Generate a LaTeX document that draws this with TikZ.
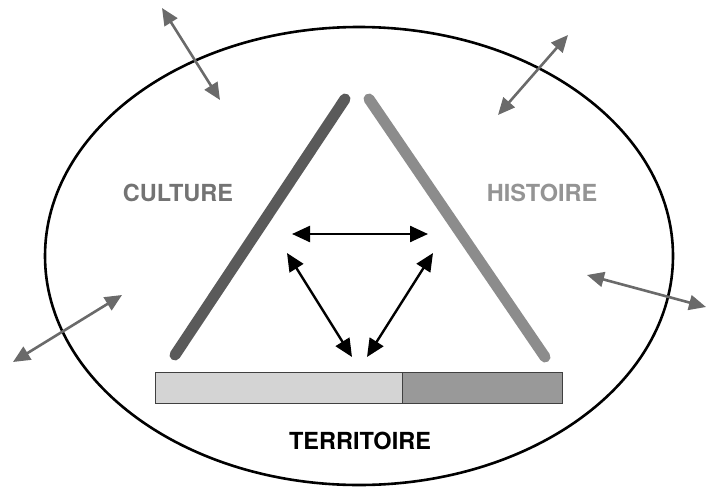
\documentclass[tikz,border=0pt]{standalone}
\usepackage{fontspec}
\setmainfont{TeX Gyre Heros}
\usetikzlibrary{arrows.meta}
\definecolor{bardark}{HTML}{5A5A5A}
\definecolor{barlight}{HTML}{8C8C8C}
\definecolor{arrgray}{HTML}{6A6A6A}
\definecolor{fillA}{HTML}{D4D4D4}
\definecolor{fillB}{HTML}{999999}
\tikzset{
  outarrow/.style={draw=arrgray, line width=2.6pt, {Triangle[length=17pt,width=15pt]}-{Triangle[length=17pt,width=15pt]}},
  inarrow/.style={draw=black, line width=2.4pt, {Triangle[length=18pt,width=16pt]}-{Triangle[length=18pt,width=16pt]}},
  side/.style={line width=11pt, line cap=round},
  lbl/.style={font=\fontsize{23.5}{26}\selectfont\bfseries, inner sep=0pt, anchor=center}
}
\begin{document}
\begin{tikzpicture}[x=1pt,y=-1pt]
\useasboundingbox (0,0) rectangle (706,490);
% ellipse
\draw[line width=2.6pt] (359,256) ellipse [x radius=314, y radius=229];
% triangle sides
\coordinate (lbot) at (175,355);
\coordinate (ltop) at (345,99);
\coordinate (rtop) at (369,99);
\coordinate (rbot) at (545,357);
\draw[side, draw=bardark] (lbot) -- (ltop);
\draw[side, draw=barlight] (rtop) -- (rbot);
% bar
\node[draw=black!75, line width=1.3pt, fill=fillA, minimum width=247pt, minimum height=31pt, inner sep=0pt, anchor=north west] (barA) at (155,372) {};
\node[draw=black!75, line width=1.3pt, fill=fillB, minimum width=160pt, minimum height=31pt, inner sep=0pt, anchor=north west] (barB) at (402,372) {};
% labels
\node[lbl, text=black] (terr) at (360,441) {TERRITOIRE};
\node[lbl, text=black!55] (cult) at (178,193) {CULTURE};
\node[lbl, text=black!42] (hist) at (542,193) {HISTOIRE};
% inner arrows
\coordinate (h1) at (292,234);
\coordinate (h2) at (428,234);
\coordinate (l1) at (287,253);
\coordinate (l2) at (352,357);
\coordinate (r1) at (433,253);
\coordinate (r2) at (367,357);
\draw[inarrow] (h1) -- (h2);
\draw[inarrow] (l1) -- (l2);
\draw[inarrow] (r1) -- (r2);
% outer arrows
\coordinate (a1) at (162,8);
\coordinate (a2) at (220,100);
\coordinate (b1) at (568,35);
\coordinate (b2) at (498,115);
\coordinate (c1) at (122,295);
\coordinate (c2) at (13,362);
\coordinate (d1) at (587,275);
\coordinate (d2) at (706,307);
\draw[outarrow] (a1) -- (a2);
\draw[outarrow] (b1) -- (b2);
\draw[outarrow] (c1) -- (c2);
\draw[outarrow] (d1) -- (d2);
\end{tikzpicture}
\end{document}
